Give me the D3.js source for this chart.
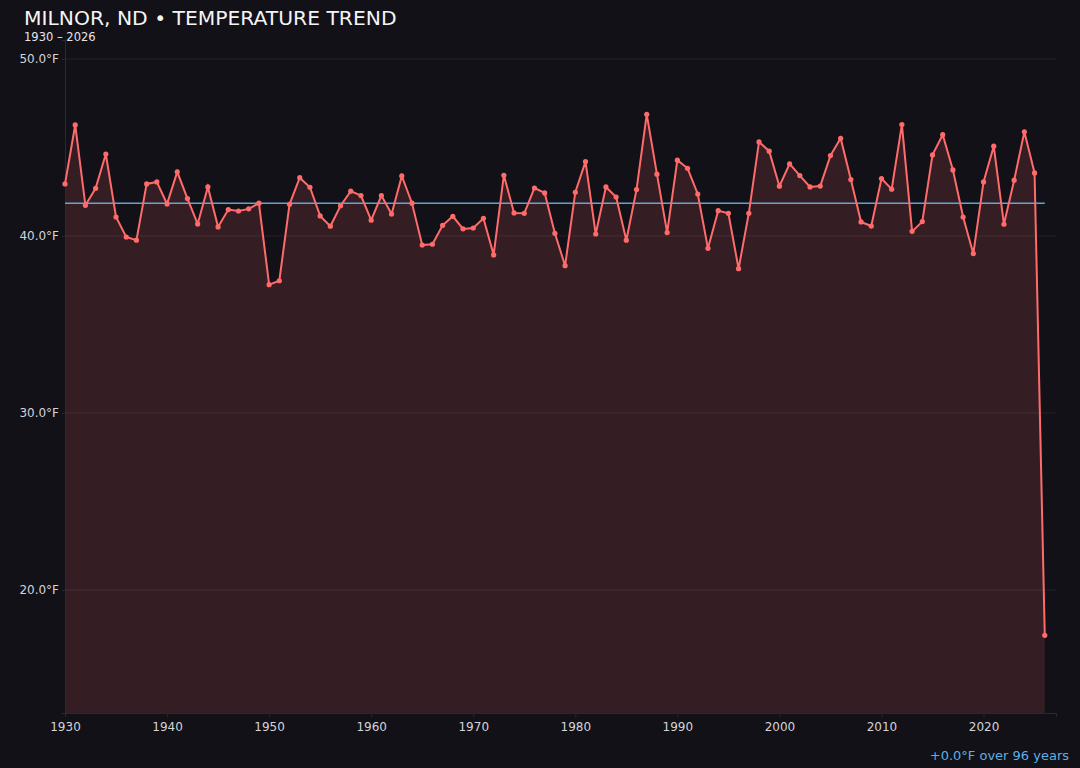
<!DOCTYPE html>
<html lang="en">

<head>
    <meta charset="utf-8">
    <title>Milnor, ND temperature trend</title>
    <script src="https://d3js.org/d3.v7.min.js"></script>
    <style type="text/css">
        html, body { margin: 0; padding: 0; background: #121117; }
        svg { display: block; font-family: "DejaVu Sans", sans-serif; }
    </style>
</head>

<body>
    <script type="text/javascript">

        // Annual mean temperature (°F)
        var years = d3.range(1930, 2027);
        var temps = [
            42.94, 46.27, 41.73, 42.69, 44.63, 41.07, 39.94, 39.76, 42.94, 43.05,
            41.81, 43.62, 42.11, 40.68, 42.77, 40.51, 41.49, 41.41, 41.53, 41.85,
            37.25, 37.47, 41.79, 43.29, 42.75, 41.13, 40.55, 41.71, 42.53, 42.28,
            40.89, 42.28, 41.24, 43.39, 41.85, 39.49, 39.53, 40.60, 41.11, 40.40,
            40.45, 41.00, 38.93, 43.43, 41.30, 41.28, 42.71, 42.43, 40.15, 38.32,
            42.47, 44.20, 40.11, 42.77, 42.20, 39.76, 42.62, 46.87, 43.49, 40.19,
            44.28, 43.82, 42.37, 39.30, 41.43, 41.28, 38.15, 41.28, 45.31, 44.79,
            42.81, 44.07, 43.41, 42.77, 42.82, 44.54, 45.52, 43.19, 40.79, 40.56,
            43.24, 42.64, 46.29, 40.26, 40.81, 44.58, 45.72, 43.73, 41.07, 39.00,
            43.05, 45.07, 40.66, 43.15, 45.88, 43.56, 17.44
        ];
        // flat trend line as drawn
        var trendYears = [1930, 2026];
        var trendTemps = [41.85, 41.85];
        var yTicks = [20, 30, 40, 50];
        var xTicks = [1930, 1940, 1950, 1960, 1970, 1980, 1990, 2000, 2010, 2020];

        var data = years.map(function (y, i) { return { year: y, t: temps[i] }; });

        var w = 1080,
            h = 768,
            margin = { top: 40, right: 24, bottom: 55, left: 65 };

        var xScale = d3.scaleLinear()
            .domain([1930, 2027.1])
            .range([margin.left, w - margin.right]);

        var yScale = d3.scaleLinear()
            .domain([13.05, 51.07])
            .range([h - margin.bottom, margin.top]);

        var svg = d3.select("body")
            .append("svg")
            .attr("width", w)
            .attr("height", h);

        svg.append("rect")
            .attr("width", w)
            .attr("height", h)
            .attr("fill", "#121117");

        // gridlines
        svg.append("g")
            .selectAll("line").data(yTicks)
            .enter()
            .append("line")
            .attr("x1", margin.left)
            .attr("x2", w - margin.right)
            .attr("y1", function (d) { return yScale(d); })
            .attr("y2", function (d) { return yScale(d); })
            .attr("stroke", "#25232b")
            .attr("stroke-width", 1);

        // area under line
        var area = d3.area()
            .x(function (d) { return xScale(d.year); })
            .y0(yScale.range()[0])
            .y1(function (d) { return yScale(d.t); });

        svg.append("path")
            .datum(data)
            .attr("d", area)
            .attr("fill", "#ff6b6b")
            .attr("fill-opacity", 0.15);

        // axes
        var xAxis = d3.axisBottom(xScale)
            .tickValues(xTicks)
            .tickFormat(d3.format("d"))
            .tickSize(4)
            .tickPadding(5);

        var yAxis = d3.axisLeft(yScale)
            .tickValues(yTicks)
            .tickFormat(function (d) { return d3.format(".1f")(d) + "°F"; })
            .tickSize(3)
            .tickPadding(3);

        var gx = svg.append("g")
            .attr("transform", "translate(0," + (h - margin.bottom) + ")")
            .call(xAxis);

        var gy = svg.append("g")
            .attr("transform", "translate(" + margin.left + ",0)")
            .call(yAxis);

        [gx, gy].forEach(function (g) {
            g.select(".domain").attr("stroke", "#2a2830");
            g.selectAll(".tick line").attr("stroke", "#2a2830");
            g.selectAll(".tick text")
                .attr("fill", "#d4d4d8")
                .attr("font-size", "12px")
                .attr("font-family", "DejaVu Sans, sans-serif");
        });

        // trend line
        svg.append("line")
            .attr("x1", xScale(trendYears[0]))
            .attr("x2", xScale(trendYears[1]))
            .attr("y1", yScale(trendTemps[0]))
            .attr("y2", yScale(trendTemps[1]))
            .attr("stroke", "#6cb4e4")
            .attr("stroke-width", 1.5)
            .attr("opacity", 0.9);

        // temperature line
        var line = d3.line()
            .x(function (d) { return xScale(d.year); })
            .y(function (d) { return yScale(d.t); });

        svg.append("path")
            .datum(data)
            .attr("d", line)
            .attr("fill", "none")
            .attr("stroke", "#ff6b6b")
            .attr("stroke-width", 2);

        svg.selectAll("circle.pt").data(data)
            .enter()
            .append("circle")
            .attr("class", "pt")
            .attr("cx", function (d) { return xScale(d.year); })
            .attr("cy", function (d) { return yScale(d.t); })
            .attr("r", 2.6)
            .attr("fill", "#ff6b6b");

        // titles
        svg.append("text")
            .text("MILNOR, ND • TEMPERATURE TREND")
            .attr("x", 24)
            .attr("y", 25)
            .attr("font-size", "20.3px")
            .attr("fill", "#f4f4f5");

        svg.append("text")
            .text("1930 – 2026")
            .attr("x", 24)
            .attr("y", 41)
            .attr("font-size", "11.5px")
            .attr("fill", "#e4e4e7");

        var trendDelta = trendTemps[1] - trendTemps[0];
        svg.append("text")
            .text((trendDelta >= 0 ? "+" : "") + trendDelta.toFixed(1) + "°F over " +
                (trendYears[1] - trendYears[0]) + " years")
            .attr("x", 1069)
            .attr("y", 760)
            .attr("text-anchor", "end")
            .attr("font-size", "13px")
            .attr("fill", "#5aafe6");

    </script>
</body>

</html>
